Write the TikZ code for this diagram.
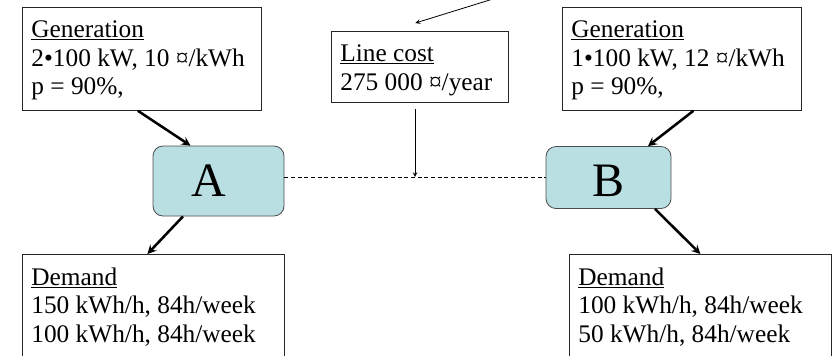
\documentclass[tikz,border=0pt]{standalone}
\usepackage{fontspec}
\setmainfont{Liberation Serif}
\usetikzlibrary{shapes,arrows}
\definecolor{busfill}{RGB}{185,223,227}
\tikzstyle{infobox} = [draw=black!85, line width=0.6pt, rectangle, anchor=north west, inner xsep=6.75pt, inner ysep=10pt, font=\fontsize{19}{21.5}\selectfont]
\tikzstyle{bus} = [draw=black!70, line width=0.6pt, rectangle, rounded corners=7.5pt, fill=busfill, font=\fontsize{36}{44}\selectfont]
\tikzstyle{flow} = [-stealth, line width=1.9pt]
\tikzstyle{costarrow} = [-stealth, line width=0.6pt]

\begin{document}
\begin{tikzpicture}[x=0.75pt, y=-0.75pt]
\useasboundingbox (0,0) rectangle (832,355);
\clip (0,0) rectangle (832,355);
% production
\node [infobox] (genA) at (22,7) {%
    \begin{minipage}[t][57.25pt][t]{165.75pt}
        \underline{Generation}\\
        2•100 kW, 10 ¤/kWh\\
        p = 90\%,
    \end{minipage}
};
\node [infobox] (genB) at (562,7) {%
    \begin{minipage}[t][57.25pt][t]{165.75pt}
        \underline{Generation}\\
        1•100 kW, 12 ¤/kWh\\
        p = 90\%,
    \end{minipage}
};
\node [infobox] (cost) at (331,31) {%
    \begin{minipage}[t][33.25pt][t]{119.25pt}
        \underline{Line cost}\\
        275 000 ¤/year
    \end{minipage}
};
% buses
\node [bus, minimum width=98.25pt, minimum height=52.5pt] (A) at (218.5,181) {A\kern14pt};
\node [bus, minimum width=93.75pt, minimum height=46.5pt] (B) at (608.5,177.5) {\raisebox{-2.5pt}[\height][0pt]{B}};
% consumption (cut at the bottom)
\node [infobox] (demA) at (22,254) {%
    \begin{minipage}[t][62.5pt][t]{183pt}
        \underline{Demand}\\
        150 kWh/h, 84h/week\\
        100 kWh/h, 84h/week
    \end{minipage}
};
\node [infobox] (demB) at (569,254) {%
    \begin{minipage}[t][62.5pt][t]{183pt}
        \underline{Demand}\\
        100 kWh/h, 84h/week\\
        50 kWh/h, 84h/week
    \end{minipage}
};
\coordinate (tap) at (415,177);
\coordinate (feed) at (522,-10);

\draw [line width=0.5pt, dash pattern=on 3pt off 2pt] (A.east |- tap) -- (B.west |- tap);
\draw [costarrow, shorten <=4.5pt] (cost.south -| tap) -- (tap);
\draw [costarrow] (feed) -- ([shift={(-4.5,-8)}]cost.north);

\draw [flow] ([shift={(-4,0)}]genA.south) -- ([shift={(-28,0)}]A.north);
\draw [flow] ([shift={(-35.5,0)}]A.south) -- ([shift={(-6,0)}]demA.north);
\draw [flow] ([shift={(11.5,0)}]genB.south) -- ([shift={(39.5,0)}]B.north);
\draw [flow] ([shift={(46.5,0)}]B.south) -- (demB.north);
\end{tikzpicture}
\end{document}
